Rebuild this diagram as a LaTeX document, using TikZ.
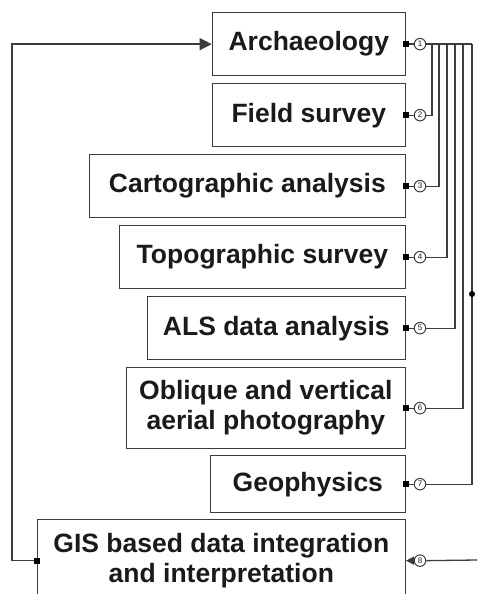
\documentclass[tikz,border=0pt]{standalone}
\usepackage{fontspec}
\setmainfont{Liberation Sans}
\usetikzlibrary{arrows.meta}
\usetikzlibrary{calc}
\definecolor{linegray}{HTML}{3C3C3C}
\definecolor{textblack}{HTML}{1A1A1A}
\tikzset{
    stagebox/.style={draw=linegray, line width=1.3pt, text=textblack, align=center,
        font=\bfseries\fontsize{26.5}{30}\selectfont, inner sep=0pt, anchor=north east},
    numdot/.style={circle, draw=linegray, line width=1pt, minimum size=11.5pt,
        inner sep=0pt, text=textblack, font=\fontsize{8}{8}\selectfont},
    link/.style={draw=linegray, line width=1.3pt},
    pin/.style={fill=black, minimum size=6pt, inner sep=0pt}
}
\begin{document}
\begin{tikzpicture}[x=1pt, y=-1pt]
    \useasboundingbox (0,0) rectangle (477,594);
    \clip (0,0) rectangle (477,594);

    % Methods
    \node[stagebox, minimum width=193pt, minimum height=63pt] (arch) at (406,12) {Archaeology};
    \node[stagebox, minimum width=193pt, minimum height=63pt] (field) at (406,83) {Field survey};
    \node[stagebox, minimum width=316pt, minimum height=63pt] (carto) at (406,154) {Cartographic analysis};
    \node[stagebox, minimum width=286pt, minimum height=63pt] (topo) at (406,225) {Topographic survey};
    \node[stagebox, minimum width=258pt, minimum height=63pt] (als) at (406,296) {ALS data analysis};
    \node[stagebox, minimum width=279pt, minimum height=81pt] (aerial) at (406,367) {Oblique and vertical\\aerial photography};
    \node[stagebox, minimum width=195pt, minimum height=57pt] (geo) at (406,455) {Geophysics};
    \node[stagebox, minimum width=368pt, minimum height=82pt] (gis) at (406,519) {GIS based data integration\\and interpretation};

    % Numbered outputs
    \foreach \b/\i in {arch/1, field/2, carto/3, topo/4, als/5, aerial/6, geo/7} {
        \node[numdot] (c\i) at ($(\b.east)+(14,0)$) {\i};
        \draw[link] (\b.east) -- (c\i);
        \node[pin] at (\b.east) {};
    }
    \node[numdot] (c8) at ($(gis.east)+(14,0)$) {8};

    % Collector lines
    \foreach \i/\x in {2/432, 3/439, 4/447, 5/455, 6/463, 7/472} {
        \coordinate (b\i) at (\x,0 |- c1);
        \draw[link] (c\i.east) -| (b\i);
    }
    \draw[link] (c1.east) -- (b7);
    \node[circle, fill=black, minimum size=6pt, inner sep=0pt] (jn) at (472,294) {};

    % Feedback
    \coordinate (edge8) at (477,560);
    \draw[link] (edge8) -- (c8.east);
    \draw[link, -{Triangle[length=8pt, width=8pt]}] (c8.west) -- (gis.east);
    \coordinate (back) at (12,0 |- gis.west);
    \draw[link, -{Triangle[length=12pt, width=12pt]}] (gis.west) -- (back) |- (arch.west);
    \node[pin] at (gis.west) {};
\end{tikzpicture}
\end{document}
